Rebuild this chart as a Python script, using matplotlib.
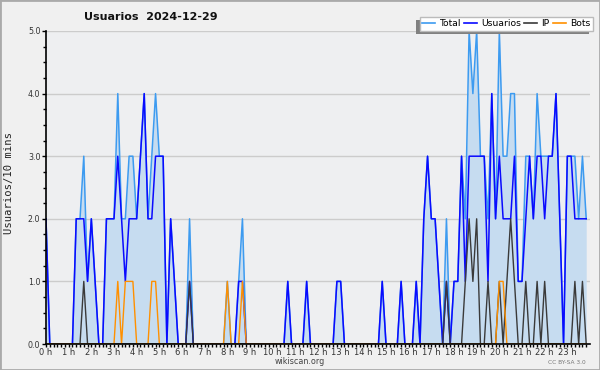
import matplotlib
matplotlib.use('Agg')
import matplotlib.pyplot as plt
from matplotlib.patches import Rectangle
from matplotlib.lines import Line2D
import numpy as np

title = "Usuarios  2024-12-29"
hour_labels = [f"{h} h" for h in range(24)]
y_labels = ["0.0", "1.0", "2.0", "3.0", "4.0", "5.0"]
series_names = ["Total", "Usuarios", "IP", "Bots"]

# 10-minute intervals, 144 points
total = [2,0,0,0,0,0,0,0,2,2,3,1,
         2,1,0,0,2,2,2,4,2,2,3,3,
         2,3,4,2,3,4,3,3,0,2,1,0,
         0,0,2,0,0,0,0,0,0,0,0,0,
         1,0,0,1,2,0,0,0,0,0,0,0,
         0,0,0,0,1,0,0,0,0,1,0,0,
         0,0,0,0,0,1,1,0,0,0,0,0,
         0,0,0,0,0,1,0,0,0,0,1,0,
         0,0,1,0,2,3,2,2,1,0,2,0,
         1,1,3,2,5,4,5,3,3,2,4,2,
         5,3,3,4,4,1,1,3,3,2,4,3,
         3,3,3,4,2,0,3,3,3,2,3,2]
usuarios = [2,0,0,0,0,0,0,0,2,2,2,1,
            2,1,0,0,2,2,2,3,2,1,2,2,
            2,3,4,2,2,3,3,3,0,2,1,0,
            0,0,1,0,0,0,0,0,0,0,0,0,
            0,0,0,1,1,0,0,0,0,0,0,0,
            0,0,0,0,1,0,0,0,0,1,0,0,
            0,0,0,0,0,1,1,0,0,0,0,0,
            0,0,0,0,0,1,0,0,0,0,1,0,
            0,0,1,0,2,3,2,2,1,0,1,0,
            1,1,3,1,3,3,3,3,3,1,4,2,
            3,2,2,2,3,1,1,2,3,2,3,3,
            2,3,3,4,2,0,3,3,2,2,2,2]
ip = [0,0,0,0,0,0,0,0,0,0,1,0,
      0,0,0,0,0,0,0,0,0,0,0,0,
      0,0,0,0,0,0,0,0,0,0,0,0,
      0,0,1,0,0,0,0,0,0,0,0,0,
      0,0,0,0,0,0,0,0,0,0,0,0,
      0,0,0,0,0,0,0,0,0,0,0,0,
      0,0,0,0,0,0,0,0,0,0,0,0,
      0,0,0,0,0,0,0,0,0,0,0,0,
      0,0,0,0,0,0,0,0,0,0,1,0,
      0,0,0,1,2,1,2,0,0,1,0,0,
      1,0,1,2,1,0,0,1,0,0,1,0,
      1,0,0,0,0,0,0,0,1,0,1,0]
bots = [0,0,0,0,0,0,0,0,0,0,0,0,
        0,0,0,0,0,0,0,1,0,1,1,1,
        0,0,0,0,1,1,0,0,0,0,0,0,
        0,0,0,0,0,0,0,0,0,0,0,0,
        1,0,0,0,1,0,0,0,0,0,0,0,
        0,0,0,0,0,0,0,0,0,0,0,0,
        0,0,0,0,0,0,0,0,0,0,0,0,
        0,0,0,0,0,0,0,0,0,0,0,0,
        0,0,0,0,0,0,0,0,0,0,0,0,
        0,0,0,0,0,0,0,0,0,0,0,0,
        1,1,0,0,0,0,0,0,0,0,0,0,
        0,0,0,0,0,0,0,0,0,0,0,0]

x = np.arange(len(total)) / 6.0

W, H = 600, 370
fig = plt.figure(figsize=(6, 3.7), dpi=100, facecolor='#f0f0f0')
ax = fig.add_axes([46 / W, 1 - 344 / H, 544 / W, 313 / H])
ax.set_facecolor('#eeeff1')

c_total, c_users, c_ip, c_bots = '#3d9bf0', '#0a0aff', '#3a3a3a', '#ff9000'
ax.fill_between(x, total, 0, color='#c6dcf0', lw=0, zorder=1)
ax.plot(x, total, color=c_total, lw=1.1, zorder=3)
ax.plot(x, usuarios, color=c_users, lw=1.1, zorder=4)
ax.plot(x, ip, color=c_ip, lw=1.0, zorder=5)
ax.plot(x, bots, color=c_bots, lw=1.0, zorder=6)

ax.set_xlim(0, 24)
ax.set_ylim(0, 5)
ax.set_yticks(range(6))
ax.set_yticklabels(y_labels)
ax.set_yticks(np.arange(0, 5.01, 0.25), minor=True)
ax.set_xticks(range(24))
ax.set_xticklabels(hour_labels)
ax.set_xticks(np.arange(0, 24, 1 / 6), minor=True)
ax.grid(axis='y', which='major', color='#cccccc', lw=1, zorder=0)
ax.set_axisbelow(True)

for s in ['top', 'right']:
    ax.spines[s].set_visible(False)
for s in ['left', 'bottom']:
    ax.spines[s].set_color('black')
    ax.spines[s].set_linewidth(1.2)
    ax.spines[s].set_zorder(10)

ax.tick_params(axis='y', which='major', length=3, width=1, pad=1, labelsize=5.7, labelcolor='#333333')
ax.tick_params(axis='y', which='minor', length=2.2, width=1)
ax.tick_params(axis='x', which='both', length=2.2, width=1, pad=1, labelsize=6, labelcolor='#333333')

fig.text(151 / W, 1 - 17 / H, title, ha='center', va='center', fontsize=8, fontweight='bold', color='#111111')
fig.text(9 / W, 1 - 183 / H, "Usuarios/10 mins", rotation=90, ha='center', va='center',
         fontsize=7.6, family='DejaVu Sans Mono', color='#222222')
fig.text(300 / W, 1 - 361 / H, "wikiscan.org", ha='center', va='center', fontsize=5.8, color='#444444')
fig.text(567 / W, 1 - 362 / H, "CC BY-SA 3.0", ha='center', va='center', fontsize=4.2, color='#777777')

handles = [Line2D([], [], color=c, lw=1.2) for c in (c_total, c_users, c_ip, c_bots)]
leg = fig.legend(handles, series_names, ncol=4, loc='upper right',
                 bbox_to_anchor=(593 / W, 1 - 17 / H), bbox_transform=fig.transFigure,
                 frameon=True, fancybox=False, edgecolor='#bbbbbb', facecolor='white', framealpha=1,
                 fontsize=6.7, handlelength=1.4, handletextpad=0.45, columnspacing=0.35,
                 borderpad=0.25, borderaxespad=0)
leg.set_zorder(20)

fig.canvas.draw()
bb = leg.get_window_extent()
inv = fig.transFigure.inverted()
(x0, y0) = inv.transform((bb.x0 - 4, bb.y0 - 3))
(x1, y1) = inv.transform((bb.x1 - 4, bb.y1 - 3))
fig.patches.append(Rectangle((x0, y0), x1 - x0, y1 - y0, transform=fig.transFigure,
                             facecolor='#808080', edgecolor='none', zorder=19))
fig.patches.append(Rectangle((0, 0), 1, 1, transform=fig.transFigure, fill=False,
                             edgecolor='#aaaaaa', lw=2, zorder=30))

fig.savefig('out.png', dpi=100, facecolor=fig.get_facecolor())
